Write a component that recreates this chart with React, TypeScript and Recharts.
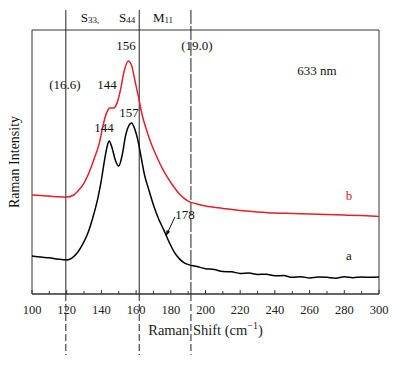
import React from "react";
import {
  LineChart,
  Line,
  XAxis,
  YAxis,
  ReferenceLine,
  ReferenceDot,
  ReferenceArea,
} from "recharts";

// black spectrum (a)
const shiftA = [
  100, 105, 110, 115, 120, 123, 126, 129, 132, 135, 138, 140, 142, 143.5, 144.5, 146, 148, 150,
  152, 154, 156, 157.4, 159, 161, 163, 165, 167, 170, 173, 176, 179, 182, 185, 188, 191, 195, 200,
  205, 210, 215, 220, 225, 230, 235, 240, 245, 250, 255, 260, 265, 270, 275, 280, 285, 290, 295, 300,
];
const intensityA = [
  14.4, 14.0, 13.7, 13.2, 12.9, 13.6, 15.5, 18.6, 22.7, 28.8, 36.4, 43.2, 51.5, 56.4, 58.0, 55.7,
  50.8, 48.5, 52.7, 60.2, 64.0, 64.8, 62.9, 58.3, 51.5, 44.7, 40.2, 33.7, 28.4, 24.2, 19.7, 15.9,
  13.3, 11.7, 11.0, 10.4, 9.6, 9.3, 8.5, 8.4, 7.8, 8.0, 7.4, 7.5, 6.9, 7.0, 6.3, 6.5, 6.1, 6.4, 6.3,
  6.0, 6.5, 6.2, 6.4, 6.3, 6.4,
];

// red spectrum (b)
const shiftB = [
  100, 105, 110, 115, 120, 124, 127, 130, 133, 136, 139, 141, 143, 145, 147, 149, 151, 153, 155.5,
  157.5, 159.5, 161.5, 163.5, 166, 169, 172, 175, 178, 181, 185, 190, 195, 200, 210, 220, 230, 240,
  250, 260, 270, 280, 290, 300,
];
const intensityB = [
  37.5, 37.3, 37.1, 36.8, 36.7, 37.5, 39.4, 42.0, 46.2, 51.5, 57.6, 64.0, 68.6, 70.5, 70.5, 72.3,
  77.3, 84.1, 88.3, 86.4, 80.3, 74.2, 67.8, 62.1, 56.4, 51.9, 47.7, 44.3, 41.3, 37.9, 35.2, 34.1,
  33.3, 32.4, 31.6, 31.1, 30.7, 30.5, 30.3, 30.1, 29.9, 29.7, 29.4,
];

const xTicks = [
  100, 110, 120, 130, 140, 150, 160, 170, 180, 190, 200, 210, 220, 230, 240, 250, 260, 270, 280,
  290, 300,
];

const markerLines = [119.5, 161.8, 191.6];

type Note = { x: number; y: number; text: string; sub?: string; color?: string; rotate?: boolean };
const notes: Note[] = [
  { x: 133.4, y: 104.9, text: "S", sub: "33," },
  { x: 154.8, y: 104.9, text: "S", sub: "44" },
  { x: 175.5, y: 104.9, text: "M", sub: "11" },
  { x: 119.0, y: 79.2, text: "(16.6)" },
  { x: 143.2, y: 79.5, text: "144" },
  { x: 154.2, y: 94.3, text: "156" },
  { x: 195.1, y: 94.3, text: "(19.0)" },
  { x: 264.3, y: 84.8, text: "633 nm" },
  { x: 141.5, y: 62.9, text: "144" },
  { x: 155.9, y: 68.6, text: "157" },
  { x: 188.2, y: 30.3, text: "178" },
  { x: 282.7, y: 37.5, text: "b", color: "#e0202a" },
  { x: 282.7, y: 14.4, text: "a" },
  { x: 89.8, y: 50, text: "Raman Intensity", rotate: true },
];

const font = "Liberation Serif, DejaVu Serif, serif";
const dataA = shiftA.map((x, i) => ({ x, v: intensityA[i] }));
const dataB = shiftB.map((x, i) => ({ x, v: intensityB[i] }));

function Tick(props: any) {
  const { x, y, payload } = props;
  const major = payload.value % 20 === 0;
  return (
    <g>
      <line x1={x} y1={y} x2={x} y2={y - (major ? 4 : 3)} stroke="#333" />
      {major && (
        <text x={x} y={y + 20} textAnchor="middle" fontSize={12.5} fontFamily={font} fill="#222">
          {payload.value}
        </text>
      )}
    </g>
  );
}

function ArrowShape(props: any) {
  const { x1, y1, x2, y2 } = props;
  const a = Math.atan2(y2 - y1, x2 - x1);
  const l = 6;
  const p1 = [x2 - l * Math.cos(a - 0.35), y2 - l * Math.sin(a - 0.35)];
  const p2 = [x2 - l * Math.cos(a + 0.35), y2 - l * Math.sin(a + 0.35)];
  return (
    <g>
      <line x1={x1} y1={y1} x2={x2} y2={y2} stroke="#111" strokeWidth={1} />
      <polygon points={`${x2},${y2} ${p1[0]},${p1[1]} ${p2[0]},${p2[1]}`} fill="#111" />
    </g>
  );
}

export default function App() {
  return (
    <div style={{ position: "absolute", left: 0, top: 0, fontFamily: font }}>
      <LineChart width={400} height={367} margin={{ top: 30, right: 21, bottom: 43, left: 32 }}>
        <XAxis
          type="number"
          dataKey="x"
          domain={[100, 300]}
          ticks={xTicks}
          interval={0}
          height={30}
          tickSize={0}
          tickMargin={0}
          tickLine={false}
          axisLine={{ stroke: "#333" }}
          tick={<Tick />}
          label={{
            content: (p: any) => {
              const vb = p.viewBox;
              return (
                <text
                  x={vb.x + vb.width / 2}
                  y={330}
                  textAnchor="middle"
                  dominantBaseline="central"
                  fontSize={14.5}
                  fontFamily={font}
                  fill="#222"
                >
                  Raman Shift (cm
                  <tspan dy={-5} fontSize={10}>
                    −1
                  </tspan>
                  <tspan dy={5}>)</tspan>
                </text>
              );
            },
          }}
        />
        <YAxis type="number" domain={[0, 100]} hide />
        <ReferenceArea x1={100} x2={300} y1={0} y2={100} fill="none" stroke="#333" strokeWidth={1} ifOverflow="visible" />
        {markerLines.map((m) => (
          <ReferenceLine
            key={"s" + m}
            segment={[
              { x: m, y: 107.6 },
              { x: m, y: 0 },
            ]}
            stroke="#222"
            strokeWidth={1}
            strokeDasharray={m > 180 ? "14 2" : undefined}
            ifOverflow="visible"
          />
        ))}
        {markerLines.map((m) => (
          <ReferenceLine
            key={"d" + m}
            segment={[
              { x: m, y: 0 },
              { x: m, y: -23.1 },
            ]}
            stroke="#222"
            strokeWidth={1}
            strokeDasharray="7 3"
            ifOverflow="visible"
          />
        ))}
        <Line
          data={dataB}
          dataKey="v"
          type="monotone"
          stroke="#e0202a"
          strokeWidth={1.5}
          dot={false}
          isAnimationActive={false}
        />
        <Line
          data={dataA}
          dataKey="v"
          type="monotone"
          stroke="#000"
          strokeWidth={1.5}
          dot={false}
          isAnimationActive={false}
        />
        <ReferenceLine
          segment={[
            { x: 182.4, y: 29.2 },
            { x: 177.2, y: 22.0 },
          ]}
          shape={<ArrowShape />}
          ifOverflow="visible"
        />
        {notes.map((n, i) => (
          <ReferenceDot
            key={i}
            x={n.x}
            y={n.y}
            r={0}
            ifOverflow="visible"
            shape={(p: any) => (
              <text
                x={p.cx}
                y={p.cy}
                textAnchor="middle"
                dominantBaseline="central"
                fontSize={n.rotate ? 14 : 13}
                fontFamily={font}
                fill={n.color ?? "#111"}
                transform={n.rotate ? `rotate(-90 ${p.cx} ${p.cy})` : undefined}
              >
                {n.text}
                {n.sub && (
                  <tspan dy={3} fontSize={9}>
                    {n.sub}
                  </tspan>
                )}
              </text>
            )}
          />
        ))}
      </LineChart>
    </div>
  );
}
